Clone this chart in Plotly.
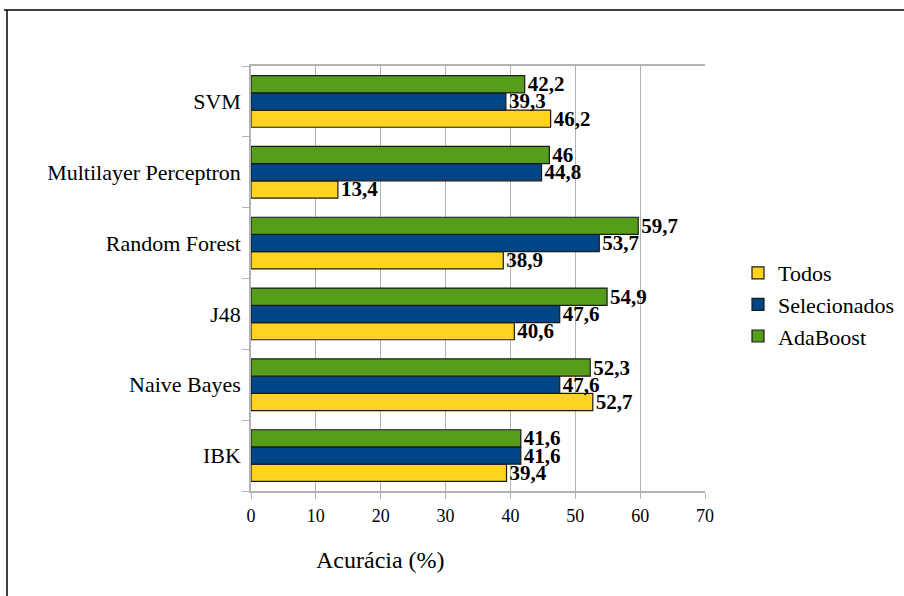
import plotly.graph_objects as go

categories = ["IBK", "Naive Bayes", "J48", "Random Forest", "Multilayer Perceptron", "SVM"]
todos = [39.4, 52.7, 40.6, 38.9, 13.4, 46.2]
selecionados = [41.6, 47.6, 47.6, 53.7, 44.8, 39.3]
adaboost = [41.6, 52.3, 54.9, 59.7, 46.0, 42.2]
series_names = ["Todos", "Selecionados", "AdaBoost"]
x_ticks = [0, 10, 20, 30, 40, 50, 60, 70]

colors = ["#FFD320", "#004586", "#579D1C"]
SERIF = "Liberation Serif, Times New Roman, serif"


def fmt(v):
    s = ("%.1f" % v).rstrip("0").rstrip(".")
    return s.replace(".", ",")


fig = go.Figure()
for name, vals, col in zip(series_names, [todos, selecionados, adaboost], colors):
    fig.add_trace(go.Bar(
        y=categories, x=vals, name=name, orientation="h",
        marker=dict(color=col, line=dict(color="#1a1a1a", width=1.2)),
        text=[fmt(v) for v in vals], textposition="outside",
        textfont=dict(family=SERIF, size=21, color="black", weight="bold"),
        constraintext="none", cliponaxis=False, legendgroup=name,
    ))

W, H = 904, 596
L, R, T, B = 251, 705, 66, 491

def px(xp):
    return (xp - L) / (R - L)

def py(yp):
    return (B - yp) / (B - T)

fig.update_layout(
    width=W, height=H,
    margin=dict(l=L, r=W - R, t=T, b=H - B, pad=0, autoexpand=False),
    paper_bgcolor="white", plot_bgcolor="white",
    barmode="group", bargap=0.27, bargroupgap=0,
    font=dict(family=SERIF, size=22, color="black"),
    showlegend=True,
    legend=dict(x=px(738), y=py(252), xanchor="left", yanchor="top",
                font=dict(family=SERIF, size=22, color="black"),
                tracegroupgap=3, traceorder="normal",
                bgcolor="rgba(0,0,0,0)", borderwidth=0, itemwidth=30),
    xaxis=dict(range=[0, 70], tickvals=x_ticks, ticktext=[str(t) for t in x_ticks],
               showgrid=True, gridcolor="#b3b3b3", gridwidth=1,
               showline=True, linecolor="#b3b3b3", linewidth=1.5, mirror=True,
               ticks="outside", ticklen=6, tickcolor="#b3b3b3",
               tickfont=dict(family=SERIF, size=18, color="black"),
               ticklabelstandoff=2,
               zeroline=False, fixedrange=True, automargin=False),
    yaxis=dict(categoryorder="array", categoryarray=categories,
               showgrid=False, showline=True, linecolor="#b3b3b3", linewidth=1.5,
               ticks="outside", ticklen=7, tickcolor="#b3b3b3", tickson="boundaries",
               tickfont=dict(family=SERIF, size=22, color="black"),
               ticklabelstandoff=4, fixedrange=True, automargin=False),
    shapes=[
        dict(type="line", xref="paper", yref="paper", x0=px(4), x1=px(904), y0=py(10), y1=py(10),
             line=dict(color="black", width=1.5)),
        dict(type="line", xref="paper", yref="paper", x0=px(7), x1=px(7), y0=py(10), y1=py(596),
             line=dict(color="black", width=1.5)),
    ],
    annotations=[
        dict(text="Acurácia (%)", xref="paper", yref="paper", x=px(380), y=py(560),
             xanchor="center", yanchor="middle", showarrow=False,
             font=dict(family=SERIF, size=24, color="black")),
    ],
)

fig.write_html("out.html")
